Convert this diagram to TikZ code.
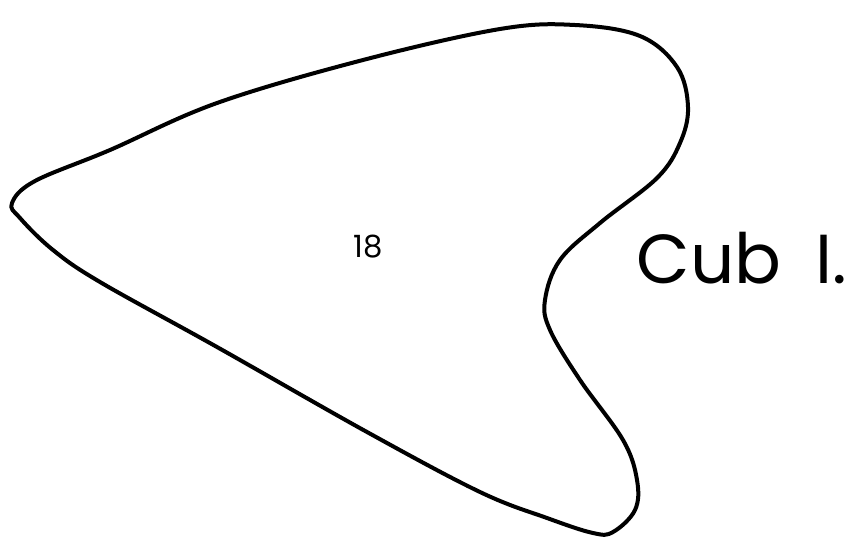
\documentclass[tikz,border=0pt]{standalone}
\usepackage{fontspec}
\setmainfont{Poppins}
\usetikzlibrary{positioning}

\begin{document}
\begin{tikzpicture}[
  x=0.75pt,y=-0.75pt,
  outline/.style={line width=3pt,line join=round,black},
  tag/.style={font=\fontsize{23}{24}\selectfont,inner sep=0pt},
  title/.style={font=\fontsize{52}{56}\selectfont,inner sep=0pt},
  ]
  \useasboundingbox (0,0) rectangle (863,554);
  % lobe outline
  \draw[outline] plot[smooth cycle,tension=0.6] coordinates {
    (12,203) (35,181) (110,150) (217,103) (363,60)
    (500,29) (575,25) (640,36) (677,67) (688,107) (680,143)
    (657,178) (600,223) (560,260) (545,300) (550,330)
    (580,380) (623,440) (637,480) (635,510) (613,532) (593,533)
    (547,518) (480,492) (367,432) (217,347) (100,282) (53,250) (20,218)};
  \node[tag]   (num)  at (368,247) {18};
  \node[title] (name) at (742,258) {Cub\hspace{0.5em}I.};
\end{tikzpicture}
\end{document}
